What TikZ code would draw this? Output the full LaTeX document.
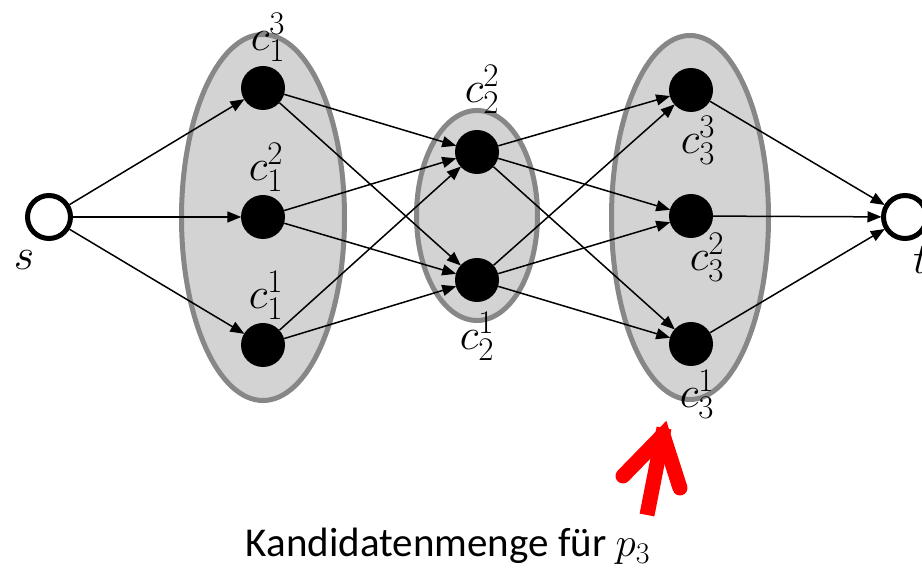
\RequirePackage{fix-cm}
\documentclass[tikz,border=0pt]{standalone}
\usepackage{fontspec}
\setmainfont{Carlito}
\usetikzlibrary{arrows.meta,shapes.geometric}
\DeclareMathSizes{44}{44}{33}{26}
\DeclareMathSizes{41}{41}{30}{24}

\definecolor{groupfill}{HTML}{D3D3D3}
\definecolor{groupline}{HTML}{878787}
\definecolor{pointer}{HTML}{FF0000}

\tikzset{
  group/.style={ellipse, draw=groupline, fill=groupfill, line width=5pt, inner sep=0pt},
  vtx/.style={circle, fill=black, minimum size=44pt, inner sep=0pt},
  term/.style={circle, draw=black, fill=white, line width=5pt, minimum size=43pt, inner sep=0pt},
  lbl/.style={inner sep=0pt, font=\fontsize{44}{50}\selectfont},
  edge/.style={line width=1.5pt, -{Triangle[length=14pt,width=11pt]}, shorten >=-0.5pt},
}

\begin{document}
\begin{tikzpicture}[x=1pt,y=1pt]
\useasboundingbox (0,0) rectangle (922,580);

% candidate sets
\node[group, minimum width=163pt, minimum height=366pt] (g1) at (263,362.5) {};
\node[group, minimum width=121pt, minimum height=210pt] (g2) at (477,364.5) {};
\node[group, minimum width=157pt, minimum height=364pt] (g3) at (690,362.5) {};

% vertices
\node[term] (s) at (49,363) {};
\node[term] (t) at (905,363) {};
\node[vtx] (c13) at (263,492) {};
\node[vtx] (c12) at (263,363) {};
\node[vtx] (c11) at (263,235) {};
\node[vtx] (c22) at (477,428) {};
\node[vtx] (c21) at (477,300) {};
\node[vtx] (c33) at (691,490) {};
\node[vtx] (c32) at (691,364) {};
\node[vtx] (c31) at (691,236) {};

% edges between consecutive layers
\foreach \a/\b in {s/c13,s/c12,s/c11,
  c13/c22,c13/c21,c12/c22,c12/c21,c11/c22,c11/c21,
  c22/c33,c22/c32,c22/c31,c21/c33,c21/c32,c21/c31,
  c33/t,c32/t,c31/t}
  \draw[edge] (\a) -- (\b);

% vertex labels
\node[lbl] (ls) at (24,320) {$s$};
\node[lbl] (lt) at (921,320) {$t$};
\node[lbl] (l13) at (268,543) {$c_1^3$};
\node[lbl] (l12) at (266,413) {$c_1^2$};
\node[lbl] (l11) at (266,285) {$c_1^1$};
\node[lbl] (l22) at (482,491) {$c_2^2$};
\node[lbl] (l21) at (477,244) {$c_2^1$};
\node[lbl] (l33) at (698,440) {$c_3^3$};
\node[lbl] (l32) at (707,323) {$c_3^2$};
\node[lbl] (l31) at (697,186) {$c_3^1$};

% red pointer
\coordinate (ptail) at (647,65);
\coordinate (phead) at (664,152);
\coordinate (pvert) at (663,145);
\coordinate (pleft) at (623,104);
\coordinate (pright) at (680,92);
\draw[pointer, line width=15pt, line cap=butt] (ptail) -- (phead);
\draw[pointer, line width=15pt, line cap=round, line join=miter]
  (pleft) -- (pvert) -- (pright);

% caption
\node[anchor=base, inner sep=0pt, font=\fontsize{41}{48}\selectfont] (cap) at (448,23)
  {Kandidatenmenge für $p_3$};
\end{tikzpicture}
\end{document}
